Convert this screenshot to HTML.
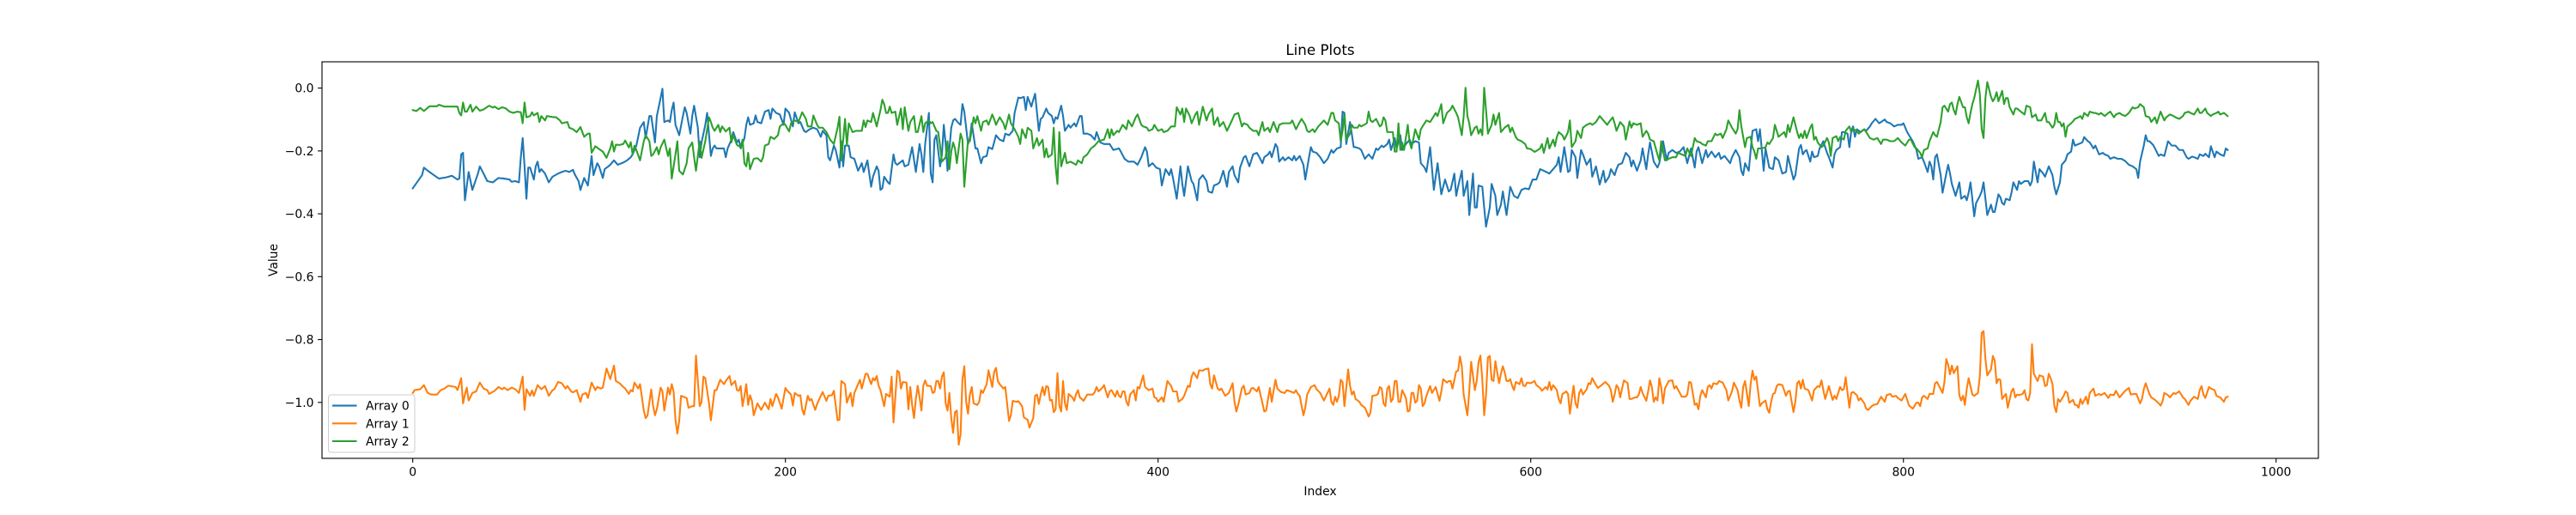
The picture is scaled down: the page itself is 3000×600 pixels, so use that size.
<!DOCTYPE html>
<html><head><meta charset="utf-8"><title>Line Plots</title>
<style>
html,body{margin:0;padding:0;background:#fff;}
svg{display:block;font-family:"DejaVu Sans","Liberation Sans",sans-serif;}
</style></head>
<body>
<svg id="chart" width="3000" height="600" viewBox="0 0 3000 600" xmlns="http://www.w3.org/2000/svg">
<rect x="0" y="0" width="3000" height="600" fill="#ffffff"/>
<defs><clipPath id="plotclip"><rect x="375" y="72" width="2325" height="462"/></clipPath></defs>
<g id="grid-ticks"></g>
<g id="series" clip-path="url(#plotclip)"></g>
<rect x="375" y="72" width="2325" height="462" fill="none" stroke="#000" stroke-width="1.1"/>
<text x="1537.5" y="64" text-anchor="middle" font-size="16.7" fill="#000">Line Plots</text>
<text x="1537.5" y="577" text-anchor="middle" font-size="13.9" fill="#000">Index</text>
<text x="323" y="303" text-anchor="middle" font-size="13.9" fill="#000" transform="rotate(-90 323 303)">Value</text>
<g id="legend"></g>
</svg>
<script>
const xTicks = [0, 200, 400, 600, 800, 1000];
const yTicks = [0.0, -0.2, -0.4, -0.6, -0.8, -1.0];
const yTickLabels = ["0.0", "\u22120.2", "\u22120.4", "\u22120.6", "\u22120.8", "\u22121.0"];
const seriesNames = ["Array 0", "Array 1", "Array 2"];
const seriesColors = ["#1f77b4", "#ff7f0e", "#2ca02c"];

const array0Index = [0,5,6,9,14,18,21,24,25,26,27,28,30,32,35,36,38,40,43,46,49,52,53,55,57,58,59,60,61,62,63,65,66,67,68,69,71,73,75,78,80,82,84,86,87,89,90,92,94,96,97,99,100,102,103,105,106,108,110,113,115,117,118,120,121,122,124,125,127,128,130,131,133,134,135,137,138,139,140,141,143,145,146,147,149,150,151,153,154,155,157,158,160,161,162,163,165,167,168,169,171,172,174,175,176,178,179,180,181,183,184,185,187,188,189,191,192,193,195,197,199,200,202,204,205,207,208,210,211,213,215,217,219,220,222,223,224,226,227,229,230,231,232,234,235,237,239,241,242,244,
246,247,249,250,251,252,253,255,256,258,259,260,263,264,266,268,270,272,273,274,275,277,278,279,280,281,283,284,285,286,287,289,290,291,293,294,295,296,298,299,300,302,303,305,306,308,309,311,312,313,315,317,318,320,322,323,325,326,328,329,330,332,333,334,336,337,338,340,341,343,344,345,346,348,349,350,352,353,355,356,358,359,360,362,364,366,367,369,371,374,376,379,380,382,384,387,389,391,393,394,395,397,399,401,402,404,406,407,408,410,412,413,414,416,418,419,421,422,424,426,427,429,430,432,433,435,437,438,440,441,443,444,446,447,449,451,453,454,456,457,459,460,461,463,464,465,467,468,470,472,473,474,476,478,479,481,482,483,485,487,489,
491,493,494,496,498,499,500,501,503,505,506,508,509,511,513,515,517,518,520,521,523,524,525,527,528,530,531,533,535,536,538,540,541,543,544,546,548,550,552,554,556,557,559,560,561,563,564,566,567,569,570,571,572,574,575,576,578,579,581,582,584,585,587,589,591,593,595,597,599,601,603,605,607,610,612,614,615,616,618,620,621,622,624,625,627,628,630,632,633,635,637,639,640,642,643,645,646,647,649,651,653,654,655,657,659,660,662,663,664,666,668,669,671,673,674,676,678,680,682,684,686,688,689,690,692,694,695,697,699,701,702,704,707,708,710,712,713,714,715,717,719,721,722,723,725,726,728,730,731,733,
735,737,738,741,742,744,745,746,747,748,750,751,752,754,755,757,758,759,760,762,763,764,766,767,768,770,771,772,773,774,775,777,779,780,782,783,785,787,788,790,791,793,795,797,799,800,802,803,805,806,807,808,810,811,813,814,815,816,817,818,820,821,823,824,825,826,828,830,831,833,834,835,836,838,839,841,842,843,844,845,847,848,849,851,852,853,854,855,857,858,859,861,862,863,865,867,868,869,870,872,873,875,876,878,880,881,882,884,885,887,888,890,891,892,894,896,897,899,900,902,903,905,907,908,910,911,913,915,917,919,921,923,925,926,927,929,930,931,932,934,935,937,938,940,942,944,946,948,950,952,953,955,956,958,959,961,962,964,965,967,968,970,972,973,974];
const array0Values = [-0.319,-0.277,-0.253,-0.267,-0.288,-0.284,-0.279,-0.291,-0.288,-0.211,-0.206,-0.357,-0.267,-0.324,-0.272,-0.249,-0.272,-0.296,-0.300,-0.286,-0.288,-0.291,-0.298,-0.296,-0.300,-0.220,-0.159,-0.249,-0.352,-0.253,-0.253,-0.291,-0.249,-0.234,-0.267,-0.258,-0.272,-0.300,-0.282,-0.272,-0.267,-0.263,-0.267,-0.260,-0.275,-0.296,-0.324,-0.286,-0.310,-0.216,-0.277,-0.239,-0.249,-0.286,-0.258,-0.249,-0.244,-0.230,-0.244,-0.237,-0.230,-0.220,-0.211,-0.183,-0.155,-0.126,-0.108,-0.159,-0.089,-0.089,-0.173,-0.089,-0.032,-0.002,-0.108,-0.103,-0.108,-0.070,-0.046,-0.117,-0.150,-0.089,-0.061,-0.079,-0.145,-0.089,-0.056,-0.126,-0.220,-0.173,-0.117,-0.079,-0.216,-0.192,-0.183,-0.192,-0.192,-0.192,-0.220,-0.192,-0.164,-0.140,-0.173,-0.164,-0.192,-0.159,-0.117,-0.093,-0.117,-0.112,-0.087,-0.108,-0.112,-0.093,-0.075,-0.070,-0.098,-0.065,-0.079,-0.084,-0.117,-0.065,-0.079,-0.122,-0.077,-0.112,-0.108,-0.136,-0.140,-0.131,-0.126,-0.131,-0.155,-0.136,-0.150,-0.220,-0.230,-0.183,-0.197,-0.253,-0.169,-0.249,-0.183,-0.183,-0.220,-0.225,-0.263,-0.239,-0.267,-0.230,
-0.314,-0.282,-0.249,-0.263,-0.324,-0.319,-0.282,-0.300,-0.305,-0.211,-0.239,-0.244,-0.230,-0.249,-0.244,-0.188,-0.267,-0.178,-0.211,-0.267,-0.178,-0.079,-0.272,-0.300,-0.164,-0.150,-0.249,-0.211,-0.117,-0.178,-0.263,-0.126,-0.103,-0.098,-0.112,-0.117,-0.051,-0.075,-0.178,-0.159,-0.112,-0.192,-0.192,-0.239,-0.220,-0.216,-0.188,-0.194,-0.173,-0.150,-0.164,-0.169,-0.145,-0.150,-0.136,-0.079,-0.030,-0.032,-0.028,-0.070,-0.028,-0.059,-0.037,-0.018,-0.136,-0.098,-0.093,-0.065,-0.079,-0.089,-0.112,-0.093,-0.098,-0.056,-0.089,-0.136,-0.117,-0.126,-0.112,-0.122,-0.089,-0.089,-0.145,-0.145,-0.150,-0.164,-0.140,-0.173,-0.178,-0.178,-0.197,-0.192,-0.202,-0.225,-0.234,-0.234,-0.244,-0.220,-0.188,-0.202,-0.249,-0.239,-0.253,-0.258,-0.310,-0.258,-0.277,-0.258,-0.286,-0.352,-0.249,-0.305,-0.343,-0.249,-0.296,-0.305,-0.357,-0.291,-0.277,-0.296,-0.329,-0.333,-0.310,-0.305,-0.300,-0.263,-0.314,-0.267,-0.249,-0.277,-0.300,-0.253,-0.220,-0.216,-0.249,-0.211,-0.206,-0.216,-0.239,-0.220,-0.211,-0.202,-0.220,-0.178,-0.188,-0.234,-0.220,-0.230,-0.220,-0.230,-0.216,-0.230,-0.216,-0.244,-0.291,-0.220,-0.188,-0.202,-0.206,-0.220,-0.239,
-0.225,-0.197,-0.206,-0.192,-0.188,-0.075,-0.079,-0.178,-0.108,-0.188,-0.188,-0.192,-0.197,-0.225,-0.211,-0.225,-0.192,-0.197,-0.183,-0.188,-0.178,-0.164,-0.197,-0.159,-0.192,-0.150,-0.197,-0.178,-0.164,-0.178,-0.169,-0.173,-0.239,-0.253,-0.267,-0.188,-0.324,-0.239,-0.338,-0.291,-0.329,-0.324,-0.272,-0.343,-0.314,-0.263,-0.343,-0.296,-0.404,-0.272,-0.380,-0.380,-0.310,-0.314,-0.380,-0.441,-0.380,-0.305,-0.343,-0.404,-0.371,-0.329,-0.404,-0.314,-0.343,-0.350,-0.324,-0.319,-0.322,-0.291,-0.291,-0.258,-0.263,-0.272,-0.258,-0.244,-0.220,-0.267,-0.188,-0.267,-0.263,-0.197,-0.220,-0.286,-0.197,-0.211,-0.244,-0.225,-0.282,-0.249,-0.307,-0.263,-0.300,-0.282,-0.258,-0.277,-0.258,-0.244,-0.239,-0.206,-0.220,-0.249,-0.230,-0.263,-0.230,-0.192,-0.258,-0.211,-0.173,-0.234,-0.253,-0.239,-0.169,-0.230,-0.206,-0.197,-0.206,-0.202,-0.188,-0.239,-0.192,-0.253,-0.202,-0.188,-0.239,-0.197,-0.220,-0.202,-0.220,-0.206,-0.225,-0.216,-0.239,-0.220,-0.197,-0.220,-0.263,-0.277,-0.239,-0.263,-0.136,-0.131,-0.169,-0.131,-0.263,-0.192,-0.253,-0.258,-0.220,-0.230,
-0.272,-0.267,-0.216,-0.291,-0.277,-0.192,-0.181,-0.211,-0.202,-0.197,-0.234,-0.202,-0.220,-0.216,-0.192,-0.169,-0.188,-0.206,-0.220,-0.253,-0.211,-0.197,-0.188,-0.140,-0.140,-0.145,-0.188,-0.136,-0.122,-0.155,-0.131,-0.140,-0.131,-0.136,-0.122,-0.112,-0.098,-0.112,-0.108,-0.100,-0.108,-0.112,-0.122,-0.117,-0.117,-0.112,-0.140,-0.150,-0.169,-0.183,-0.197,-0.225,-0.220,-0.234,-0.267,-0.234,-0.249,-0.291,-0.220,-0.211,-0.277,-0.333,-0.272,-0.244,-0.272,-0.305,-0.343,-0.300,-0.352,-0.343,-0.357,-0.333,-0.300,-0.408,-0.366,-0.343,-0.329,-0.300,-0.352,-0.404,-0.371,-0.394,-0.394,-0.338,-0.347,-0.366,-0.371,-0.352,-0.357,-0.333,-0.300,-0.324,-0.296,-0.305,-0.296,-0.296,-0.310,-0.296,-0.234,-0.300,-0.258,-0.272,-0.282,-0.249,-0.277,-0.314,-0.338,-0.300,-0.244,-0.230,-0.211,-0.202,-0.164,-0.183,-0.178,-0.173,-0.156,-0.169,-0.173,-0.192,-0.183,-0.211,-0.206,-0.211,-0.216,-0.225,-0.220,-0.225,-0.225,-0.232,-0.244,-0.249,-0.258,-0.286,-0.234,-0.183,-0.150,-0.169,-0.169,-0.181,-0.192,-0.216,-0.211,-0.216,-0.169,-0.183,-0.183,-0.197,-0.197,-0.220,-0.225,-0.218,-0.220,-0.225,-0.211,-0.216,-0.209,-0.220,-0.185,-0.220,-0.202,-0.211,-0.216,-0.192,-0.197];

const array1Index = [0,1,4,6,8,10,13,15,17,19,23,24,26,27,28,29,30,32,34,36,38,40,41,44,46,48,49,51,53,55,57,59,60,61,63,64,65,67,69,71,73,75,76,78,80,82,83,85,86,88,90,91,93,94,96,98,99,101,102,104,106,108,109,111,113,114,116,117,118,119,121,122,124,125,126,128,129,130,131,133,134,135,137,138,139,140,141,142,143,144,146,147,148,150,151,152,154,155,156,157,159,160,162,163,165,167,168,170,171,173,174,175,176,177,178,179,180,181,182,183,185,187,188,189,191,192,193,195,196,198,200,201,203,204,205,207,208,209,210,212,213,214,216,217,219,220,222,223,225,226,228,229,230,232,233,234,235,236,237,238,239,240,241,243,244,
246,247,248,249,250,251,253,254,256,257,258,260,261,262,263,265,266,267,268,269,270,271,272,273,274,275,276,278,279,280,281,282,283,284,285,286,287,288,289,290,291,292,293,294,295,296,297,298,299,300,301,303,304,305,306,308,309,311,312,313,314,315,317,318,320,321,322,324,325,327,328,330,331,333,334,335,336,337,338,339,340,341,342,343,344,345,346,347,348,349,350,351,352,354,355,356,357,358,359,360,362,363,365,366,367,368,370,371,372,373,374,375,377,378,379,380,381,382,383,384,385,387,388,389,390,392,393,395,397,398,399,400,402,403,405,407,408,410,411,413,414,416,417,418,419,421,422,424,425,427,428,429,430,432,433,434,436,438,440,441,442,443,445,446,447,449,450,451,453,454,456,457,458,460,461,463,464,466,468,469,471,473,474,475,476,478,479,480,482,484,485,487,489,
492,493,494,495,496,497,498,499,500,502,503,504,505,506,508,509,511,512,513,514,515,517,518,519,520,521,522,523,524,525,526,527,528,529,530,531,532,533,534,535,536,537,538,539,540,541,542,543,544,546,547,549,551,552,553,555,556,557,558,560,561,562,563,564,566,567,568,570,571,572,573,574,575,576,577,578,579,580,581,583,584,585,586,587,588,589,590,591,592,594,595,596,597,598,600,602,603,605,606,608,609,610,611,612,614,615,616,617,618,619,620,621,622,623,624,625,626,627,628,630,631,632,633,635,636,638,640,642,643,644,645,646,647,648,649,650,652,653,654,656,657,658,659,660,662,663,664,665,666,667,668,669,670,671,672,674,676,677,678,680,681,683,684,685,686,688,689,690,691,692,694,695,696,697,698,700,701,703,705,706,708,709,711,712,713,714,715,717,718,719,720,721,722,723,724,726,727,728,729,730,731,732,733,
735,737,738,739,741,742,743,744,745,746,747,749,751,752,754,755,756,758,760,762,763,764,766,767,768,769,771,772,773,775,776,777,779,780,781,783,784,786,788,790,791,793,794,796,797,799,801,803,805,807,808,809,810,811,813,814,816,817,818,820,821,822,823,824,825,826,827,829,830,831,832,833,834,835,837,838,840,841,842,843,844,845,847,848,849,850,851,852,853,855,856,858,859,860,861,862,864,865,866,867,868,869,870,872,873,875,876,877,878,879,880,881,882,883,884,886,887,888,889,891,892,893,894,895,896,898,899,900,902,903,905,906,908,910,911,913,914,916,918,919,921,922,924,925,927,928,929,930,932,933,935,937,938,939,940,942,943,945,946,948,950,951,953,954,956,958,959,960,961,962,964,965,967,968,969,970,972,973,974];
const array1Values = [-0.970,-0.961,-0.958,-0.945,-0.970,-0.975,-0.975,-0.961,-0.956,-0.947,-0.951,-0.961,-0.923,-1.003,-0.975,-0.953,-0.994,-0.970,-0.965,-0.937,-0.956,-0.961,-0.973,-0.963,-0.951,-0.958,-0.953,-0.961,-0.953,-0.958,-0.970,-0.918,-1.024,-0.958,-0.979,-0.962,-0.979,-0.945,-0.958,-0.948,-0.979,-0.961,-0.958,-0.935,-0.939,-0.956,-0.948,-0.965,-0.968,-0.961,-0.998,-0.975,-0.970,-0.986,-0.937,-0.961,-0.951,-0.956,-0.953,-0.892,-0.926,-0.883,-0.932,-0.939,-0.951,-0.956,-0.973,-0.961,-0.965,-0.937,-0.956,-0.942,-1.026,-1.050,-1.041,-0.959,-1.012,-1.041,-1.022,-0.953,-0.965,-1.026,-0.953,-0.975,-0.942,-0.965,-1.055,-1.099,-1.059,-0.979,-0.984,-0.986,-1.017,-1.012,-1.012,-0.851,-1.012,-0.998,-0.918,-0.923,-1.003,-1.057,-0.961,-0.961,-0.928,-0.942,-0.932,-0.916,-0.945,-0.932,-0.961,-0.963,-0.948,-1.012,-0.979,-0.942,-1.008,-0.977,-0.994,-1.041,-1.003,-1.024,-1.012,-1.001,-1.022,-0.989,-1.012,-0.973,-0.984,-1.020,-0.954,-0.963,-0.975,-1.010,-0.970,-0.979,-0.977,-1.022,-1.039,-0.979,-0.994,-0.989,-1.024,-1.005,-0.979,-0.967,-0.995,-0.979,-0.977,-0.963,-1.057,-1.055,-0.932,-0.942,-1.001,-0.984,-0.970,-1.012,-0.970,-0.956,-0.942,-0.928,-0.956,-0.909,-0.909,
-0.942,-0.923,-0.930,-0.916,-0.947,-0.961,-1.012,-0.973,-0.982,-0.918,-1.064,-0.899,-0.904,-0.956,-0.935,-0.937,-1.022,-0.951,-1.008,-1.050,-0.989,-0.947,-0.984,-1.026,-0.947,-0.930,-0.947,-0.948,-0.970,-0.967,-0.932,-0.932,-0.956,-0.918,-0.904,-1.003,-1.026,-0.970,-1.050,-1.097,-1.031,-1.026,-1.135,-1.102,-0.928,-0.885,-0.998,-1.036,-0.975,-0.951,-1.003,-1.008,-0.998,-0.961,-0.970,-0.942,-0.898,-0.951,-0.904,-0.890,-0.932,-0.942,-0.956,-0.951,-1.059,-1.041,-0.995,-0.998,-0.996,-1.012,-1.048,-1.055,-1.080,-1.050,-0.979,-0.975,-1.005,-0.975,-0.951,-0.977,-0.948,-0.951,-0.994,-0.992,-1.031,-1.022,-0.907,-1.010,-1.029,-0.932,-1.003,-1.024,-0.973,-0.984,-0.995,-0.973,-0.961,-0.984,-0.989,-0.995,-0.975,-0.975,-0.975,-0.967,-0.951,-0.965,-0.954,-0.945,-0.965,-0.984,-0.965,-0.961,-0.982,-0.963,-0.979,-0.984,-0.965,-0.965,-0.998,-1.010,-0.975,-0.961,-0.994,-0.951,-0.956,-0.914,-0.951,-0.961,-0.956,-0.984,-0.986,-0.998,-0.984,-0.998,-0.932,-0.948,-0.965,-0.965,-0.998,-0.989,-0.979,-0.947,-0.951,-0.918,-0.904,-0.923,-0.898,-0.899,-0.895,-0.892,-0.942,-0.956,-0.914,-0.956,-0.961,-0.956,-0.979,-0.970,-0.939,-0.998,-1.029,-1.008,-0.954,-0.947,-0.975,-0.970,-0.956,-0.954,-0.965,-0.951,-1.003,-1.029,-1.026,-0.954,-0.998,-0.928,-0.956,-0.967,-0.970,-0.961,-0.965,-0.970,-0.961,-0.973,-0.979,-1.041,-1.017,-0.975,-0.951,-0.945,-0.958,-0.970,-0.994,
-0.956,-0.998,-1.008,-0.982,-0.998,-0.979,-0.928,-0.935,-1.012,-0.895,-0.947,-0.975,-0.965,-0.989,-0.998,-1.008,-1.017,-1.031,-1.045,-1.031,-0.979,-0.977,-0.973,-0.951,-0.956,-1.003,-1.012,-0.956,-0.948,-0.998,-0.989,-0.932,-0.932,-0.998,-0.998,-0.961,-0.973,-0.986,-1.029,-1.026,-0.970,-0.970,-1.001,-0.995,-0.945,-0.956,-1.012,-1.003,-0.979,-0.948,-0.970,-0.951,-0.995,-0.965,-0.926,-0.937,-0.932,-0.932,-0.956,-0.901,-0.899,-0.854,-0.885,-0.975,-1.041,-0.965,-0.871,-0.961,-0.932,-0.871,-0.851,-0.928,-1.041,-0.975,-0.857,-0.852,-0.928,-0.932,-0.869,-0.939,-0.909,-0.885,-0.904,-0.932,-0.932,-0.926,-0.947,-0.961,-0.935,-0.942,-0.923,-0.947,-0.948,-0.937,-0.939,-0.932,-0.945,-0.954,-0.963,-0.951,-0.959,-0.935,-0.961,-0.945,-0.961,-0.989,-1.003,-0.973,-0.970,-0.965,-0.973,-1.036,-0.989,-0.947,-1.003,-1.017,-0.970,-0.958,-0.975,-0.958,-0.939,-0.942,-0.923,-0.945,-0.954,-0.945,-0.935,-0.947,-0.961,-0.998,-0.975,-0.945,-0.954,-0.984,-0.956,-0.930,-0.939,-0.989,-0.989,-0.984,-0.984,-0.975,-0.951,-0.970,-0.995,-0.965,-0.930,-0.951,-0.998,-0.984,-0.994,-0.923,-0.951,-1.003,-0.956,-0.932,-0.930,-0.956,-0.948,-0.970,-0.982,-0.982,-0.975,-0.935,-0.937,-1.008,-1.003,-1.022,-0.979,-0.961,-0.984,-0.951,-0.945,-0.956,-0.939,-0.942,-0.932,-0.937,-0.961,-0.994,-0.965,-0.937,-0.961,-0.994,-1.017,-0.951,-0.932,-1.012,-0.942,-0.899,-0.928,-0.918,-0.965,-1.012,-1.003,-0.994,-1.022,-1.033,-0.998,-0.973,-0.970,-0.948,-0.942,
-0.945,-0.979,-0.965,-0.963,-1.031,-0.998,-0.939,-0.932,-0.956,-0.928,-0.956,-0.961,-0.994,-0.961,-0.948,-0.951,-0.930,-0.989,-0.948,-0.992,-0.979,-0.989,-0.951,-0.961,-0.958,-0.920,-1.017,-0.970,-0.967,-0.977,-0.994,-0.986,-1.003,-1.020,-1.024,-1.012,-1.008,-1.005,-0.982,-0.998,-0.977,-0.973,-0.982,-0.979,-0.986,-0.994,-0.973,-1.010,-1.020,-1.001,-1.001,-1.012,-0.984,-0.979,-0.989,-0.973,-0.973,-0.939,-0.935,-0.958,-0.970,-0.935,-0.862,-0.881,-0.911,-0.883,-0.907,-0.885,-0.977,-0.994,-0.979,-1.008,-0.956,-0.923,-0.975,-0.979,-0.970,-0.918,-0.779,-0.773,-0.862,-0.914,-0.895,-0.852,-0.867,-0.939,-0.926,-0.928,-0.989,-0.973,-1.017,-0.965,-0.956,-0.984,-0.975,-0.977,-0.973,-0.961,-0.989,-0.994,-0.970,-0.815,-0.909,-0.932,-0.914,-0.918,-0.948,-0.945,-0.909,-0.923,-0.942,-1.012,-1.031,-0.989,-0.998,-0.979,-0.965,-0.970,-1.001,-0.992,-1.008,-1.008,-1.017,-0.989,-1.005,-0.982,-1.005,-0.970,-0.956,-0.979,-0.973,-0.977,-0.970,-0.986,-0.975,-0.977,-0.963,-0.984,-0.970,-0.963,-0.954,-0.975,-0.973,-0.973,-1.003,-0.989,-0.958,-0.939,-0.973,-0.984,-0.992,-1.003,-1.010,-0.998,-0.970,-0.977,-0.984,-0.970,-0.973,-0.965,-0.984,-0.989,-1.008,-0.995,-0.982,-0.989,-0.961,-0.948,-0.975,-0.986,-0.951,-0.956,-0.961,-0.979,-0.982,-0.984,-0.998,-0.984,-0.982];

const array2Index = [0,2,4,6,9,13,14,17,24,25,26,27,28,29,31,32,34,36,38,41,43,44,46,48,50,52,54,56,58,59,60,61,63,64,65,67,68,69,71,72,75,77,79,80,83,84,86,88,90,91,92,94,95,96,98,100,102,104,106,107,108,109,111,113,114,116,117,118,119,120,122,124,125,127,128,129,131,132,133,135,137,138,139,141,142,143,145,147,148,150,151,152,154,155,157,159,160,161,162,164,165,166,168,170,171,172,174,176,177,178,179,180,181,183,185,187,188,189,191,192,194,196,197,199,200,202,203,205,207,209,211,212,214,215,217,218,220,222,224,226,228,229,230,232,233,234,236,238,241,242,243,244,
246,247,249,251,252,253,254,255,256,257,259,260,262,263,264,266,267,269,270,271,273,274,275,277,278,279,281,282,283,284,286,287,288,289,290,291,292,294,295,296,298,299,301,302,303,305,306,308,309,311,312,313,315,317,318,320,321,323,325,326,327,329,330,332,333,335,336,338,339,340,341,343,344,345,346,347,348,350,351,353,356,357,359,360,362,364,366,368,371,373,374,375,376,378,379,381,383,384,386,388,389,391,392,394,395,397,398,400,402,403,405,407,409,410,412,413,414,415,417,418,420,421,422,424,426,427,429,430,432,433,435,437,440,441,443,445,446,448,449,451,453,454,456,457,459,460,462,464,465,467,469,471,472,474,476,477,479,480,481,483,484,486,489,
491,493,494,495,497,498,499,500,501,503,504,505,507,508,509,512,513,514,515,517,519,520,521,522,523,525,526,527,528,529,530,531,532,534,535,536,538,540,541,543,544,546,548,549,550,551,552,553,555,557,558,560,561,563,564,565,566,567,568,570,571,572,573,574,575,576,577,579,580,581,583,584,586,588,589,590,592,593,595,597,598,600,602,603,605,606,607,609,610,612,613,614,615,617,618,620,621,622,624,625,627,628,630,632,633,635,637,639,641,642,644,645,646,648,650,651,653,654,655,657,659,660,662,663,664,666,668,669,670,672,674,676,678,679,681,683,684,686,688,689,691,692,694,695,697,699,700,702,703,705,706,708,710,711,712,713,715,716,718,719,720,721,722,724,726,727,728,730,731,733,
736,737,738,739,741,743,744,745,746,747,748,750,751,752,753,754,756,757,759,760,761,762,764,765,766,768,769,771,772,773,775,776,777,779,780,782,784,786,788,789,791,793,795,797,799,801,803,804,806,807,809,810,811,813,814,816,817,818,820,821,822,824,825,826,827,828,829,830,832,833,834,835,836,837,838,840,841,842,843,844,845,847,848,849,850,851,853,854,855,856,857,859,860,861,863,865,866,868,869,871,872,874,876,877,878,880,881,882,883,884,885,886,887,888,890,891,892,894,895,896,897,899,900,902,903,905,906,908,910,911,913,914,916,917,919,921,922,923,924,926,927,929,930,932,933,935,936,937,938,940,941,943,945,946,948,950,951,953,954,956,958,959,960,962,963,965,966,968,969,970,972,973,974];
const array2Values = [-0.070,-0.073,-0.063,-0.073,-0.058,-0.058,-0.053,-0.059,-0.059,-0.079,-0.087,-0.046,-0.075,-0.075,-0.053,-0.075,-0.059,-0.072,-0.068,-0.056,-0.062,-0.059,-0.067,-0.061,-0.065,-0.075,-0.079,-0.075,-0.077,-0.112,-0.046,-0.093,-0.089,-0.077,-0.087,-0.079,-0.108,-0.089,-0.103,-0.089,-0.092,-0.093,-0.103,-0.112,-0.108,-0.126,-0.131,-0.140,-0.124,-0.140,-0.155,-0.145,-0.145,-0.206,-0.185,-0.194,-0.202,-0.222,-0.192,-0.169,-0.202,-0.180,-0.181,-0.178,-0.167,-0.189,-0.172,-0.211,-0.183,-0.197,-0.230,-0.169,-0.150,-0.169,-0.216,-0.211,-0.188,-0.211,-0.189,-0.164,-0.216,-0.192,-0.288,-0.211,-0.169,-0.263,-0.275,-0.239,-0.192,-0.173,-0.220,-0.263,-0.169,-0.222,-0.169,-0.093,-0.108,-0.126,-0.136,-0.117,-0.140,-0.122,-0.138,-0.126,-0.173,-0.150,-0.181,-0.188,-0.164,-0.239,-0.249,-0.206,-0.258,-0.225,-0.223,-0.234,-0.220,-0.183,-0.178,-0.155,-0.162,-0.150,-0.122,-0.112,-0.117,-0.138,-0.112,-0.103,-0.108,-0.077,-0.098,-0.122,-0.122,-0.087,-0.117,-0.126,-0.126,-0.140,-0.164,-0.178,-0.126,-0.091,-0.230,-0.098,-0.181,-0.112,-0.140,-0.136,-0.136,-0.103,-0.124,-0.103,
-0.108,-0.079,-0.122,-0.070,-0.037,-0.051,-0.079,-0.079,-0.059,-0.079,-0.075,-0.117,-0.065,-0.131,-0.061,-0.136,-0.108,-0.089,-0.140,-0.140,-0.089,-0.140,-0.112,-0.103,-0.112,-0.108,-0.136,-0.140,-0.183,-0.234,-0.220,-0.169,-0.258,-0.202,-0.173,-0.192,-0.239,-0.145,-0.164,-0.314,-0.164,-0.169,-0.093,-0.112,-0.089,-0.136,-0.108,-0.103,-0.117,-0.084,-0.098,-0.117,-0.093,-0.112,-0.131,-0.084,-0.112,-0.131,-0.155,-0.178,-0.131,-0.159,-0.126,-0.136,-0.192,-0.159,-0.183,-0.164,-0.220,-0.192,-0.220,-0.211,-0.126,-0.249,-0.305,-0.140,-0.249,-0.206,-0.239,-0.234,-0.244,-0.230,-0.239,-0.220,-0.211,-0.192,-0.183,-0.169,-0.164,-0.131,-0.159,-0.131,-0.150,-0.136,-0.140,-0.117,-0.131,-0.103,-0.122,-0.093,-0.084,-0.117,-0.122,-0.126,-0.136,-0.131,-0.117,-0.136,-0.131,-0.140,-0.136,-0.122,-0.122,-0.061,-0.084,-0.065,-0.108,-0.065,-0.089,-0.112,-0.084,-0.075,-0.117,-0.059,-0.103,-0.084,-0.065,-0.117,-0.093,-0.122,-0.108,-0.136,-0.098,-0.084,-0.079,-0.122,-0.112,-0.117,-0.126,-0.136,-0.136,-0.150,-0.108,-0.136,-0.126,-0.140,-0.108,-0.140,-0.117,-0.112,-0.112,-0.112,-0.103,-0.131,-0.108,-0.098,-0.117,-0.136,-0.140,-0.131,-0.140,-0.122,-0.103,
-0.117,-0.079,-0.079,-0.103,-0.112,-0.169,-0.136,-0.084,-0.164,-0.145,-0.117,-0.126,-0.126,-0.117,-0.122,-0.112,-0.075,-0.103,-0.108,-0.098,-0.122,-0.117,-0.093,-0.103,-0.140,-0.140,-0.140,-0.202,-0.202,-0.112,-0.197,-0.173,-0.197,-0.117,-0.173,-0.192,-0.131,-0.164,-0.131,-0.112,-0.103,-0.108,-0.089,-0.079,-0.089,-0.070,-0.051,-0.112,-0.079,-0.068,-0.056,-0.079,-0.093,-0.150,-0.089,0.001,-0.089,-0.112,-0.150,-0.126,-0.122,-0.145,-0.131,-0.150,0.001,-0.070,-0.145,-0.117,-0.084,-0.117,-0.079,-0.140,-0.126,-0.117,-0.140,-0.126,-0.156,-0.164,-0.169,-0.178,-0.192,-0.194,-0.203,-0.200,-0.192,-0.178,-0.206,-0.159,-0.192,-0.164,-0.185,-0.155,-0.140,-0.150,-0.164,-0.140,-0.103,-0.188,-0.169,-0.136,-0.159,-0.126,-0.117,-0.112,-0.117,-0.108,-0.089,-0.103,-0.117,-0.108,-0.093,-0.112,-0.136,-0.108,-0.122,-0.164,-0.106,-0.126,-0.112,-0.117,-0.112,-0.155,-0.136,-0.145,-0.164,-0.169,-0.211,-0.230,-0.169,-0.230,-0.225,-0.220,-0.220,-0.206,-0.211,-0.216,-0.192,-0.216,-0.159,-0.169,-0.173,-0.178,-0.183,-0.169,-0.169,-0.145,-0.150,-0.145,-0.159,-0.131,-0.103,-0.126,-0.145,-0.131,-0.070,-0.122,-0.188,-0.159,-0.155,-0.188,-0.202,-0.225,-0.192,-0.192,-0.188,-0.173,-0.178,-0.159,-0.117,-0.155,
-0.140,-0.156,-0.117,-0.140,-0.093,-0.140,-0.159,-0.145,-0.159,-0.136,-0.159,-0.126,-0.115,-0.164,-0.155,-0.173,-0.188,-0.183,-0.159,-0.173,-0.216,-0.159,-0.153,-0.169,-0.156,-0.164,-0.136,-0.122,-0.140,-0.131,-0.136,-0.145,-0.140,-0.131,-0.140,-0.159,-0.164,-0.159,-0.178,-0.164,-0.164,-0.169,-0.169,-0.159,-0.173,-0.183,-0.164,-0.164,-0.188,-0.192,-0.206,-0.220,-0.197,-0.192,-0.169,-0.140,-0.150,-0.155,-0.108,-0.061,-0.056,-0.075,-0.051,-0.046,-0.070,-0.084,-0.051,-0.028,-0.061,-0.061,-0.093,-0.112,-0.079,-0.051,-0.032,0.024,-0.018,-0.131,-0.159,-0.032,0.019,-0.028,-0.042,-0.032,-0.013,-0.042,-0.009,-0.051,-0.032,-0.032,-0.061,-0.084,-0.065,-0.065,-0.075,-0.084,-0.056,-0.061,-0.093,-0.084,-0.103,-0.103,-0.079,-0.108,-0.108,-0.126,-0.117,-0.079,-0.108,-0.108,-0.122,-0.112,-0.155,-0.122,-0.112,-0.106,-0.098,-0.093,-0.089,-0.098,-0.079,-0.089,-0.075,-0.079,-0.079,-0.084,-0.079,-0.089,-0.079,-0.075,-0.093,-0.084,-0.079,-0.084,-0.089,-0.079,-0.070,-0.061,-0.065,-0.061,-0.051,-0.061,-0.089,-0.093,-0.108,-0.093,-0.112,-0.093,-0.075,-0.103,-0.093,-0.084,-0.089,-0.093,-0.098,-0.089,-0.079,-0.075,-0.079,-0.084,-0.065,-0.079,-0.079,-0.065,-0.079,-0.089,-0.084,-0.079,-0.075,-0.084,-0.079,-0.084,-0.089];

const NS = "http://www.w3.org/2000/svg";
const plot = {left: 375, right: 2700, top: 72, bottom: 534};
const xDomain = [-48.7, 1022.7];
const yDomain = [-1.178, 0.0836];
function xScale(v) { return plot.left + (v - xDomain[0]) / (xDomain[1] - xDomain[0]) * (plot.right - plot.left); }
function yScale(v) { return plot.bottom - (v - yDomain[0]) / (yDomain[1] - yDomain[0]) * (plot.bottom - plot.top); }

const ticksG = document.getElementById('grid-ticks');
xTicks.forEach(function (t) {
  const x = xScale(t);
  const ln = document.createElementNS(NS, 'line');
  ln.setAttribute('x1', x); ln.setAttribute('x2', x);
  ln.setAttribute('y1', plot.bottom); ln.setAttribute('y2', plot.bottom + 4.9);
  ln.setAttribute('stroke', '#000'); ln.setAttribute('stroke-width', '1.1');
  
  
  ticksG.appendChild(ln);
  const tx = document.createElementNS(NS, 'text');
  tx.setAttribute('x', x); tx.setAttribute('y', plot.bottom + 20.5);
  tx.setAttribute('text-anchor', 'middle'); tx.setAttribute('font-size', '13.9');
  tx.textContent = String(t);
  
  
  ticksG.appendChild(tx);
});
yTicks.forEach(function (t, k) {
  const y = yScale(t);
  const ln = document.createElementNS(NS, 'line');
  ln.setAttribute('x1', plot.left - 4.9); ln.setAttribute('x2', plot.left);
  ln.setAttribute('y1', y); ln.setAttribute('y2', y);
  ln.setAttribute('stroke', '#000'); ln.setAttribute('stroke-width', '1.1');
  
  
  ticksG.appendChild(ln);
  const tx = document.createElementNS(NS, 'text');
  tx.setAttribute('x', plot.left - 9.5); tx.setAttribute('y', y + 5);
  tx.setAttribute('text-anchor', 'end'); tx.setAttribute('font-size', '13.9');
  tx.textContent = yTickLabels[k];
  
  
  ticksG.appendChild(tx);
});

const seriesIdx = [array0Index, array1Index, array2Index];
const seriesVal = [array0Values, array1Values, array2Values];
const seriesG = document.getElementById('series');
for (let s = 0; s < 3; s++) {
  const n = Math.min(seriesIdx[s].length, seriesVal[s].length);
  const pts = [];
  for (let k = 0; k < n; k++) pts.push([seriesIdx[s][k], seriesVal[s][k]]);
  pts.sort(function (a, b) { return a[0] - b[0]; });
  const d = pts.map(function (p, k) { return (k ? 'L' : 'M') + xScale(p[0]).toFixed(2) + ' ' + yScale(p[1]).toFixed(2); }).join(' ');
  const path = document.createElementNS(NS, 'path');
  path.setAttribute('d', d);
  path.setAttribute('fill', 'none');
  path.setAttribute('stroke', seriesColors[s]);
  path.setAttribute('stroke-width', '2.08');
  path.setAttribute('stroke-linejoin', 'round');
  path.setAttribute('stroke-linecap', 'square');
  
  
  seriesG.appendChild(path);
}

const legendG = document.getElementById('legend');
const box = document.createElementNS(NS, 'rect');
box.setAttribute('x', 382.5); box.setAttribute('y', 460); box.setAttribute('width', 100.5); box.setAttribute('height', 67);
box.setAttribute('rx', 3); box.setAttribute('fill', '#ffffff'); box.setAttribute('fill-opacity', '0.8');
box.setAttribute('stroke', '#cccccc'); box.setAttribute('stroke-width', '1');


legendG.appendChild(box);
seriesNames.forEach(function (name, k) {
  const y = 472.6 + k * 20.7;
  const g = document.createElementNS(NS, 'g');
  
  
  const ln = document.createElementNS(NS, 'line');
  ln.setAttribute('x1', 387); ln.setAttribute('x2', 415.5); ln.setAttribute('y1', y); ln.setAttribute('y2', y);
  ln.setAttribute('stroke', seriesColors[k]); ln.setAttribute('stroke-width', '2.08');
  
  
  g.appendChild(ln);
  const tx = document.createElementNS(NS, 'text');
  tx.setAttribute('x', 426); tx.setAttribute('y', y + 5); tx.setAttribute('font-size', '13.9');
  tx.textContent = name;
  
  
  g.appendChild(tx);
  legendG.appendChild(g);
});
</script>
</body></html>
